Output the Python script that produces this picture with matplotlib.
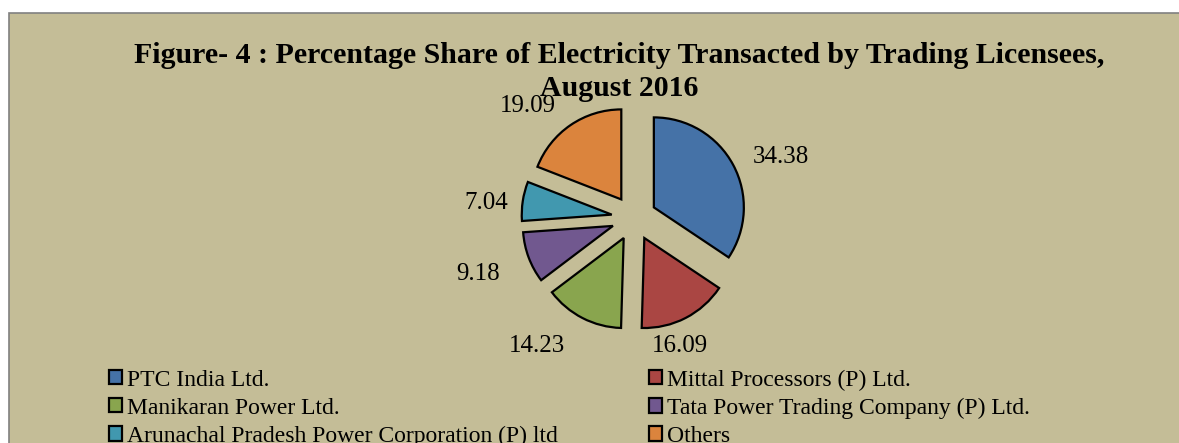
import matplotlib
matplotlib.use("Agg")
import matplotlib.pyplot as plt
from matplotlib.patches import Rectangle

companies = ["PTC India Ltd.", "Mittal Processors (P) Ltd.", "Manikaran Power Ltd.",
             "Tata Power Trading Company (P) Ltd.", "Arunachal Pradesh Power Corporation (P) ltd",
             "Others"]
shares = [34.38, 16.09, 14.23, 9.18, 7.04, 19.09]
colors = ["#4572A7", "#AA4643", "#89A54E", "#71588F", "#4198AF", "#DB843D"]
title = "Figure- 4 : Percentage Share of Electricity Transacted by Trading Licensees,\nAugust 2016"

# label nudges (pixels, x right / y down) to mimic Excel's best-fit placement
label_nudge = [(14, 10), (-23, -6), (-28, -6), (-15, 3), (1, 8), (-21, 12)]

W, H = 1179, 443
fig = plt.figure(figsize=(W / 100, H / 100), dpi=100)
fig.patch.set_facecolor("white")
ax = fig.add_axes([0, 0, 1, 1])
R = 90.0
cx, cy = 634.0, H - 218.0

ax.add_patch(Rectangle((9 / R - cx / R, -cy / R - 1), (W + 10) / R, (H - 13) / R + 1,
                       facecolor="#C4BD97", edgecolor="#808080", linewidth=1.2, zorder=0))

serif = "Liberation Serif"
wedges, texts = ax.pie(shares, labels=[f"{v:.2f}" for v in shares], colors=colors,
                       startangle=90, counterclock=False, explode=[0.25] * len(shares),
                       radius=1, center=(0, 0), labeldistance=1.42,
                       wedgeprops=dict(edgecolor="black", linewidth=1.6),
                       textprops=dict(fontsize=18, family=serif, color="black"))
for t, (dx, dy) in zip(texts, label_nudge):
    t.set_ha("center")
    t.set_va("center")
    x, y = t.get_position()
    t.set_position((x + dx / R, y - dy / R))
ax.set_aspect("equal")
ax.set_xlim(-cx / R, (W - cx) / R)
ax.set_ylim(-cy / R, (H - cy) / R)
ax.axis("off")

fig.text(619 / W, 1 - 72 / H, title, ha="center", va="center", fontsize=21.5,
         family=serif, fontweight="bold", linespacing=1.25)

order = [0, 2, 4, 1, 3, 5]
leg = fig.legend([wedges[i] for i in order], [companies[i] for i in order], ncol=2,
                 loc="upper left", bbox_to_anchor=(100 / W, 1 - 360 / H),
                 frameon=False, prop=dict(family=serif, size=17),
                 handlelength=0.55, handleheight=0.55, handletextpad=0.2,
                 labelspacing=0.3, columnspacing=3.85, borderaxespad=0)
for h in leg.legend_handles:
    h.set_linewidth(1.6)
    h.set_edgecolor("black")

fig.savefig("out.png", dpi=100, facecolor="white")
